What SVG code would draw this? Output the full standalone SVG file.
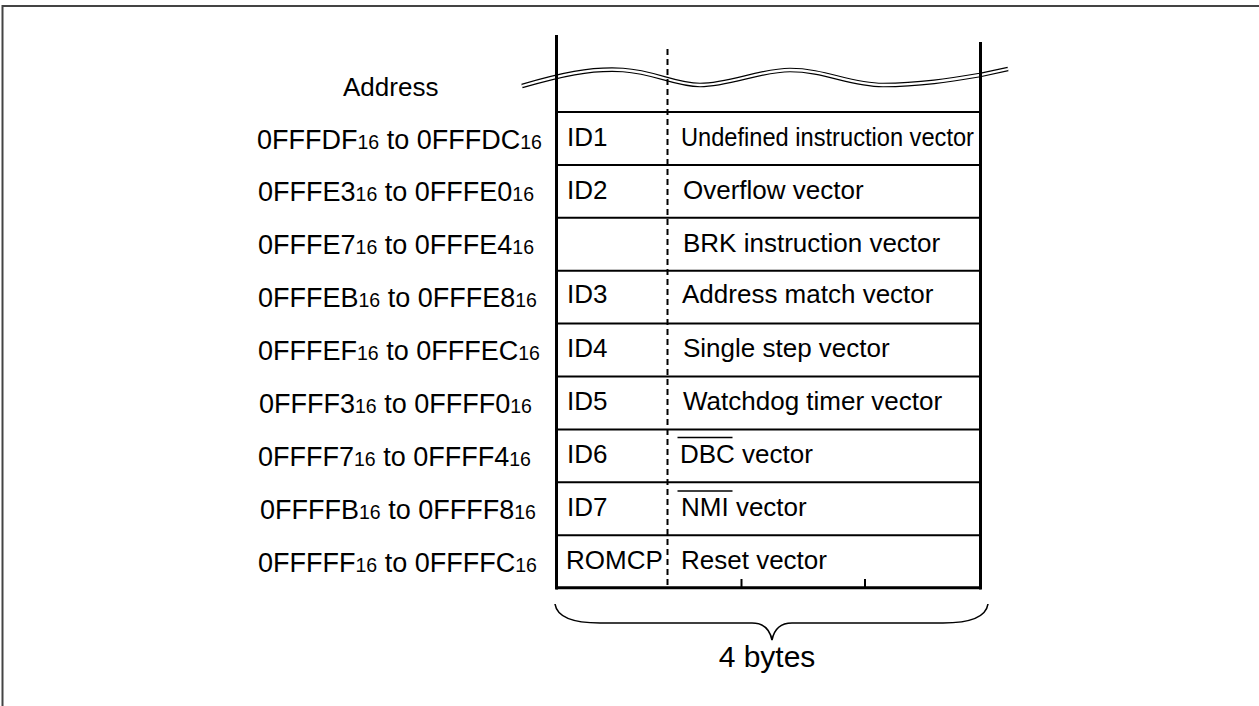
<svg xmlns="http://www.w3.org/2000/svg" width="1259" height="706" viewBox="0 0 1259 706">
<style>
text{font-family:"Liberation Sans",Arial,sans-serif;fill:#000}
.addr{font-size:27px}
.sub{font-size:19.5px}
.cell{font-size:26px}
.hl{stroke:#000;stroke-width:2}
.vl{stroke:#000;stroke-width:3}
</style>
<rect width="1259" height="706" fill="#fff"/>
<path d="M2.5 706 V6 H1259" fill="none" stroke="#444" stroke-width="2"/>
<g id="break">
<path d="M522 86 C560 75 590 68 623 70 C655 72 675 85 700 85 C730 85 760 70 790 70 C825 70 850 85 883 85 C920 85 950 80 980 75 L1008 69" fill="none" stroke="#000" stroke-width="4.6"/>
<path d="M522 86 C560 75 590 68 623 70 C655 72 675 85 700 85 C730 85 760 70 790 70 C825 70 850 85 883 85 C920 85 950 80 980 75 L1008 69" fill="none" stroke="#fff" stroke-width="2.3"/>
</g>
<g id="frame">
<line class="vl" x1="556.5" y1="35" x2="556.5" y2="589.5"/>
<line class="vl" x1="980.5" y1="42" x2="980.5" y2="589.5"/>
<line x1="667.5" y1="49" x2="667.5" y2="588" stroke="#000" stroke-width="2" stroke-dasharray="6 4"/>
<line class="hl" x1="556" y1="587.8" x2="981" y2="587.8" style="stroke-width:3"/>
<line x1="741.5" y1="579" x2="741.5" y2="588" stroke="#000" stroke-width="2"/>
<line x1="865" y1="579" x2="865" y2="588" stroke="#000" stroke-width="2"/>
</g>
<text x="343" y="96" class="addr" style="font-size:26px">Address</text>
<g id="row0"><line class="hl" x1="556" y1="112" x2="981" y2="112"/>
<text x="257" y="148.5" class="addr">0FFFDF<tspan class="sub">16</tspan> to 0FFFDC<tspan class="sub">16</tspan></text>
<text x="567" y="146" class="cell">ID1</text>
<text x="681" y="146" class="cell" textLength="293" lengthAdjust="spacingAndGlyphs">Undefined instruction vector</text></g>
<g id="row1"><line class="hl" x1="556" y1="164.9" x2="981" y2="164.9"/>
<text x="258" y="201.4" class="addr">0FFFE3<tspan class="sub">16</tspan> to 0FFFE0<tspan class="sub">16</tspan></text>
<text x="567" y="199" class="cell">ID2</text>
<text x="683" y="199" class="cell">Overflow vector</text></g>
<g id="row2"><line class="hl" x1="556" y1="217.8" x2="981" y2="217.8"/>
<text x="258" y="254.3" class="addr">0FFFE7<tspan class="sub">16</tspan> to 0FFFE4<tspan class="sub">16</tspan></text>
<text x="683" y="251.5" class="cell">BRK instruction vector</text></g>
<g id="row3"><line class="hl" x1="556" y1="270.7" x2="981" y2="270.7"/>
<text x="258" y="307.2" class="addr">0FFFEB<tspan class="sub">16</tspan> to 0FFFE8<tspan class="sub">16</tspan></text>
<text x="567" y="303" class="cell">ID3</text>
<text x="682" y="303" class="cell">Address match vector</text></g>
<g id="row4"><line class="hl" x1="556" y1="323.6" x2="981" y2="323.6"/>
<text x="258" y="360.1" class="addr">0FFFEF<tspan class="sub">16</tspan> to 0FFFEC<tspan class="sub">16</tspan></text>
<text x="567" y="356.5" class="cell">ID4</text>
<text x="683" y="356.5" class="cell">Single step vector</text></g>
<g id="row5"><line class="hl" x1="556" y1="376.5" x2="981" y2="376.5"/>
<text x="259" y="413" class="addr">0FFFF3<tspan class="sub">16</tspan> to 0FFFF0<tspan class="sub">16</tspan></text>
<text x="567" y="409.5" class="cell">ID5</text>
<text x="683" y="409.5" class="cell">Watchdog timer vector</text></g>
<g id="row6"><line class="hl" x1="556" y1="429.4" x2="981" y2="429.4"/>
<text x="258" y="465.9" class="addr">0FFFF7<tspan class="sub">16</tspan> to 0FFFF4<tspan class="sub">16</tspan></text>
<text x="567" y="463" class="cell">ID6</text>
<text x="680" y="463" class="cell">DBC vector</text>
<line x1="677.5" y1="437.5" x2="732.5" y2="437.5" stroke="#000" stroke-width="1.6"/></g>
<g id="row7"><line class="hl" x1="556" y1="482.3" x2="981" y2="482.3"/>
<text x="260" y="518.8" class="addr">0FFFFB<tspan class="sub">16</tspan> to 0FFFF8<tspan class="sub">16</tspan></text>
<text x="567" y="515.5" class="cell">ID7</text>
<text x="681" y="515.5" class="cell">NMI vector</text>
<line x1="677.5" y1="491" x2="732.5" y2="491" stroke="#000" stroke-width="1.6"/></g>
<g id="row8"><line class="hl" x1="556" y1="535.2" x2="981" y2="535.2"/>
<text x="258" y="571.7" class="addr">0FFFFF<tspan class="sub">16</tspan> to 0FFFFC<tspan class="sub">16</tspan></text>
<text x="566" y="568.5" class="cell">ROMCP</text>
<text x="681" y="568.5" class="cell">Reset vector</text></g>
<g id="connectors">
<path d="M555 604 C557 617 572 623 600 623 L752 623 C765 623 770 630 772 640 C774 630 779 623 792 623 L943 623 C970 623 986 617 988 604" fill="none" stroke="#000" stroke-width="1.6"/>
</g>
<text x="767" y="667" font-size="30" text-anchor="middle">4 bytes</text>
</svg>
